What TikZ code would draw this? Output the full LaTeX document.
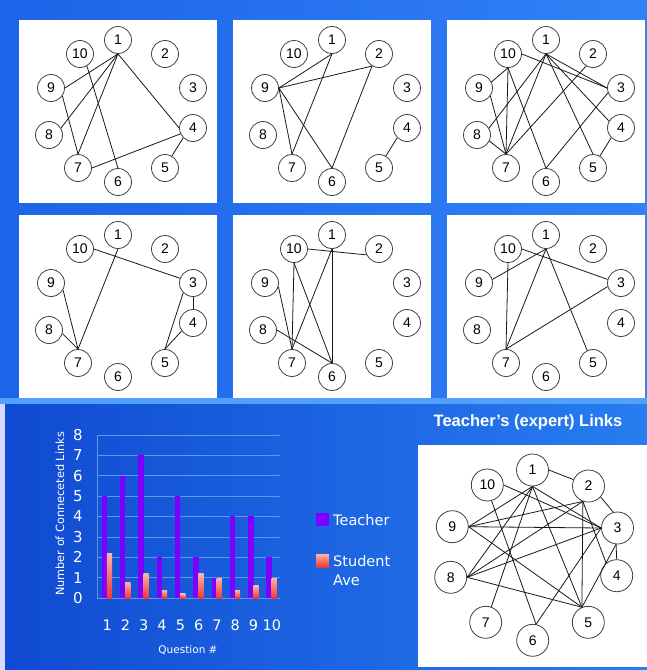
\documentclass[tikz,border=0pt]{standalone}
\usepackage{fontspec}
\setmainfont{Liberation Sans}
\newfontfamily\chartfont{DejaVu Sans}
\definecolor{bgtop}{RGB}{28,100,232}
\definecolor{bgtopl}{RGB}{50,130,246}
\definecolor{bgbotl}{RGB}{16,74,210}
\definecolor{bgbotr}{RGB}{40,125,240}
\definecolor{band}{RGB}{80,160,252}
\definecolor{teach}{RGB}{125,0,255}
\definecolor{stuT}{RGB}{255,178,165}
\definecolor{stuB}{RGB}{238,55,55}
\definecolor{gridc}{RGB}{95,150,240}
\tikzset{
  gn/.style={circle, draw=black!75, line width=0.8pt, fill=white, minimum size=27pt, inner sep=0pt, font=\fontsize{14}{14}\selectfont},
  tn/.style={gn, minimum size=32pt},
  edge/.style={line width=0.8pt, draw=black!90},
  chtxt/.style={text=white, inner sep=0pt},
  gridline/.style={draw=gridc, line width=0.6pt}
}
\newcommand\mkpanel[3]{%
  \fill[white] (#2,#3) rectangle ++(198,183);
  \foreach \i/\px/\py in {1/99/20,2/146/34,3/174/68,4/174/108,5/146/148,6/99/162,7/59/148,8/30/115,9/32/68,10/61/34}
    \node[gn] (#1n\i) at ({#2+\px},{#3+\py}) {\i};
}
\newcommand\lk[5]{\draw[edge] (#1n#2.#3) -- (#1n#4.#5);}
\begin{document}
\begin{tikzpicture}[x=1pt,y=-1pt]
\useasboundingbox (0,0) rectangle (647,670);
% backgrounds
\shade[left color=bgtop, right color=bgtopl] (0,0) rectangle (647,400);
\fill[band] (0,398) rectangle (647,404);
\shade[left color=bgbotl, right color=bgbotr] (0,404) rectangle (647,670);
\fill[white!85!blue] (0,404) rectangle (4.5,670);
% panels
\mkpanel{A}{19}{20}
\mkpanel{B}{233}{20}
\mkpanel{C}{447}{20}
\mkpanel{D}{19}{215}
\mkpanel{E}{233}{215}
\mkpanel{F}{447}{215}
% panel A
\lk{A}{1}{south}{9}{east}
\lk{A}{1}{south}{8}{30}
\lk{A}{1}{south}{7}{north}
\lk{A}{1}{south}{4}{west}
\lk{A}{10}{300}{6}{north}
\lk{A}{9}{-35}{7}{north}
\lk{A}{7}{east}{4}{205}
\lk{A}{4}{225}{5}{60}
% panel B
\lk{B}{1}{south}{9}{east}
\lk{B}{2}{240}{9}{east}
\lk{B}{9}{east}{7}{north}
\lk{B}{9}{east}{6}{north}
\lk{B}{1}{south}{7}{north}
\lk{B}{2}{240}{6}{north}
\lk{B}{4}{225}{5}{60}
% panel C
\lk{C}{10}{east}{3}{west}
\lk{C}{1}{south}{3}{west}
\lk{C}{1}{south}{4}{150}
\lk{C}{1}{south}{5}{north}
\lk{C}{1}{south}{7}{north}
\lk{C}{1}{south}{8}{30}
\lk{C}{2}{240}{7}{north}
\lk{C}{10}{south}{7}{north}
\lk{C}{10}{south}{6}{north}
\lk{C}{9}{26}{10}{south}
\lk{C}{9}{-35}{7}{north}
\lk{C}{8}{-26}{7}{north}
\lk{C}{6}{north}{3}{200}
\lk{C}{4}{225}{5}{60}
% panel D
\lk{D}{10}{east}{3}{160}
\lk{D}{1}{south}{7}{north}
\lk{D}{9}{-30}{7}{north}
\lk{D}{8}{-15}{7}{north}
\lk{D}{3}{south}{4}{north}
\lk{D}{3}{225}{5}{north}
\lk{D}{4}{215}{5}{north}
% panel E
\lk{E}{10}{east}{2}{205}
\lk{E}{10}{south}{7}{north}
\lk{E}{10}{south}{6}{north}
\lk{E}{1}{south}{7}{north}
\lk{E}{1}{south}{6}{north}
\lk{E}{9}{-15}{7}{north}
\lk{E}{8}{east}{6}{north}
% panel F
\lk{F}{10}{east}{3}{165}
\lk{F}{10}{south}{7}{north}
\lk{F}{1}{south}{9}{15}
\lk{F}{1}{south}{7}{north}
\lk{F}{1}{south}{5}{115}
\lk{F}{7}{north}{3}{195}
% chart
\foreach \k in {0,...,8}{
  \draw[gridline] (97,{598-20.4*\k}) -- (280,{598-20.4*\k});
  \node[chtxt, font=\chartfont\fontsize{15}{15}\selectfont] (yl\k) at (78,{598-20.4*\k}) {\k};
}
\draw[gridline] (97,435) -- (97,598);
\foreach \i/\t/\s in {1/5/2.17,2/6/0.78,3/7/1.19,4/2/0.38,5/5/0.21,6/2/1.19,7/1/0.98,8/4/0.38,9/4/0.59,10/2/0.98}{
  \fill[teach] ({101.7+(\i-1)*18.3},598) rectangle ++(5.4,{-20.4*\t});
  \shade[top color=stuT, bottom color=stuB] ({106.9+(\i-1)*18.3},598) rectangle ++(5.2,{-20.4*\s});
  \node[chtxt, font=\chartfont\fontsize{14.5}{15}\selectfont] (xl\i) at ({107.2+(\i-1)*18.3},625) {\i};
}
\node[chtxt, font=\chartfont\fontsize{10.5}{12}\selectfont] (xtitle) at (188,650) {Question \#};
\node[chtxt, rotate=90, font=\chartfont\fontsize{11.3}{12}\selectfont] (ytitle) at (60,514) {Number of Conneceted Links};
% legend
\fill[teach] (316,513) rectangle (329,526);
\node[chtxt, anchor=west, font=\chartfont\fontsize{14.5}{15}\selectfont] (lgT) at (333,520) {Teacher};
\shade[top color=stuT, bottom color=stuB] (316,554) rectangle (329,567);
\node[chtxt, anchor=north west, align=left, font=\chartfont\fontsize{14.5}{19}\selectfont] (lgS) at (333,555) {Student\\Ave};
% teacher graph
\node[chtxt, font=\bfseries\fontsize{16.5}{17}\selectfont] (ttl) at (528,422) {Teacher’s (expert) Links};
\fill[white] (418,445) rectangle (647,667);
\foreach \i/\px/\py in {1/532.5/470,2/588.5/486,3/617.5/528,4/616.7/575.7,5/588.3/622.3,6/532.7/640.3,7/485.7/622.3,8/450.7/577.3,9/452.3/526.7,10/487.3/485}
  \node[tn] (Tn\i) at (\px,\py) {\i};
\lk{T}{1}{east}{2}{157}
\lk{T}{2}{-42}{3}{105}
\lk{T}{3}{265}{4}{north}
\lk{T}{10}{east}{3}{west}
\lk{T}{9}{east}{3}{west}
\lk{T}{9}{east}{1}{south}
\lk{T}{9}{east}{2}{250}
\lk{T}{9}{east}{5}{113}
\lk{T}{8}{east}{1}{south}
\lk{T}{8}{east}{2}{250}
\lk{T}{8}{east}{3}{west}
\lk{T}{8}{east}{5}{113}
\lk{T}{1}{south}{7}{70}
\lk{T}{1}{south}{5}{113}
\lk{T}{1}{south}{3}{west}
\lk{T}{10}{-75}{6}{78}
\lk{T}{6}{78}{3}{west}
\lk{T}{2}{250}{5}{113}
\lk{T}{2}{250}{4}{130}
\lk{T}{3}{265}{5}{113}
\end{tikzpicture}
\end{document}
